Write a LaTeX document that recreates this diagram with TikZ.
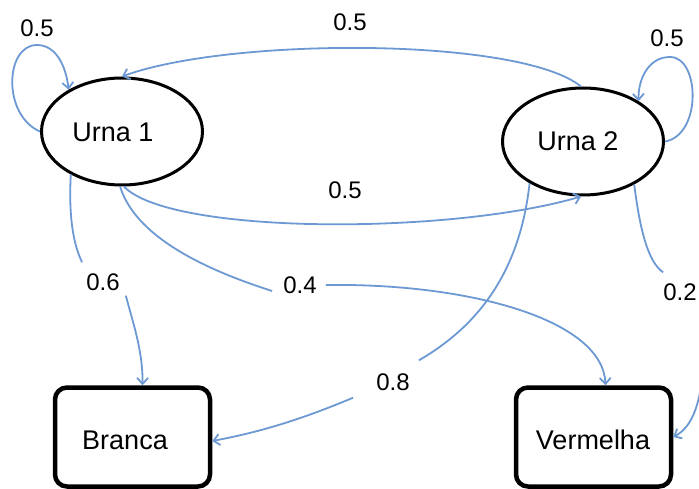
\documentclass[tikz,border=0pt]{standalone}
\usepackage{fontspec}
\setmainfont{Liberation Sans}
\usetikzlibrary{arrows.meta,shapes.geometric}
\definecolor{edgeblue}{RGB}{108,153,211}
\tikzset{
  urn/.style={ellipse,draw=black,line width=3pt,minimum width=161pt,minimum height=107pt,inner sep=0pt},
  outbox/.style={rectangle,draw=black,line width=4.5pt,rounded corners=12pt,minimum width=155pt,minimum height=99pt},
  big/.style={font=\fontsize{27}{30}\selectfont,inner sep=0pt},
  lab/.style={font=\fontsize{24}{26}\selectfont,inner sep=3pt},
  conn/.style={draw=edgeblue,line width=1.8pt,-{Straight Barb[length=6pt,width=11pt]}},
  seg/.style={draw=edgeblue,line width=1.8pt}
}
\begin{document}
\begin{tikzpicture}[x=1pt,y=-1pt]
\useasboundingbox (0,0) rectangle (699,489);
% nodes
\node[urn] (u1) at (122,131.5) {};
\node[big] (u1t) at (113,132) {Urna 1};
\node[urn] (u2) at (583,141.5) {};
\node[big] (u2t) at (578,141) {Urna 2};
\node[outbox] (b) at (132.5,437) {};
\node[big] (bt) at (125,440) {Branca};
\node[outbox] (v) at (593.5,437) {};
\node[big] (vt) at (593,440) {Vermelha};
% labels
\node[lab] (l1) at (37,28) {0.5};
\node[lab] (l2) at (667,38) {0.5};
\node[lab] (lt) at (350,22) {0.5};
\node[lab] (lm) at (345,190) {0.5};
\node[lab] (l06) at (103,282) {0.6};
\node[lab] (l04) at (300,285) {0.4};
\node[lab] (l08) at (393,382) {0.8};
\node[lab] (l02) at (680,292) {0.2};
% self loops
\draw[conn] (u1.180) .. controls (2,115) and (5,45) .. (37,45) .. controls (56,45) and (66,66) .. (u1.142);
\draw[conn] (u2.0) .. controls (702,135) and (700,57) .. (670,57) .. controls (648,57) and (638,80) .. (u2.36);
% top arc u2 -> u1
\draw[conn] (u2.92) .. controls (520,37) and (230,37) .. (u1.90);
% middle arc u1 -> u2
\draw[conn] (u1.272) .. controls (170,235) and (450,235) .. (u2.268);
% 0.6
\draw[seg] (u1.220) .. controls (68,225) and (76,250) .. ([shift={(-1,-8)}]l06.north west);
\draw[conn] ([shift={(3,2)}]l06.south east) .. controls (132,320) and (143,350) .. ([xshift=10pt]b.north);
% 0.4
\draw[seg] (u1.268) .. controls (135,235) and (200,268) .. ([xshift=-8pt,yshift=-6pt]l04.west);
\draw[conn] ([xshift=6pt]l04.east) .. controls (470,283) and (603,320) .. ([xshift=12pt]v.north);
% 0.8
\draw[seg] (u2.218) .. controls (520,270) and (480,325) .. ([shift={(6,-10)}]l08.north east);
\draw[conn] ([shift={(-20,4)}]l08.south west) .. controls (300,420) and (260,432) .. ([yshift=-4pt]b.east);
% 0.2
\draw[seg] (u2.320) .. controls (640,230) and (648,262) .. ([shift={(3,-8)}]l02.north west);
\draw[conn] ([shift={(4,60)}]l02.south east) .. controls (700,410) and (690,428) .. (v.east);
\end{tikzpicture}
\end{document}
